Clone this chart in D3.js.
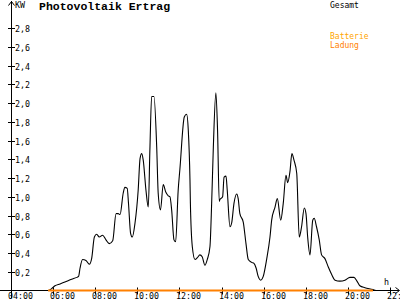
<!DOCTYPE html>
<html>
<head>
<meta charset="utf-8">
<script src="https://cdn.jsdelivr.net/npm/d3@7"></script>
<style>
  html, body { margin: 0; padding: 0; background: #fff; }
  svg { display: block; }
  .small { font-family: "DejaVu Sans Mono", monospace; font-size: 8.3px; }
  .legend { font-family: "DejaVu Sans Mono", monospace; font-size: 8px; }
</style>
</head>
<body>
<svg id="chart" width="400" height="300"></svg>
<script>
// ---- data ----
const title = "Photovoltaik Ertrag";
const unitLabel = "KW";
const timeUnit = "h";
const xTickHours = [4, 6, 8, 10, 12, 14, 16, 18, 20, 22];
const xTickLabels = ["04:00", "06:00", "08:00", "10:00", "12:00", "14:00", "16:00", "18:00", "20:00", "22:00"];
const yTickValues = [0.2, 0.4, 0.6, 0.8, 1.0, 1.2, 1.4, 1.6, 1.8, 2.0, 2.2, 2.4, 2.6, 2.8];
const yTickLabels = ["0,2", "0,4", "0,6", "0,8", "1,0", "1,2", "1,4", "1,6", "1,8", "2,0", "2,2", "2,4", "2,6", "2,8"];

const gesamtHours = [4.0, 5.76, 5.93, 6.09, 6.33, 6.56, 6.88, 7.12, 7.21, 7.28, 7.40, 7.56, 7.72, 7.83, 7.96, 8.07, 8.19, 8.35, 8.51, 8.67, 8.83, 8.99, 9.09, 9.18, 9.33, 9.41, 9.52, 9.58, 9.68, 9.76, 9.89, 10.04, 10.13, 10.21, 10.28, 10.41, 10.52, 10.60, 10.68, 10.79, 10.92, 10.99, 11.10, 11.23, 11.35, 11.47, 11.55, 11.63, 11.74, 11.82, 11.94, 12.02, 12.23, 12.34, 12.42, 12.50, 12.52, 12.61, 12.74, 12.85, 12.97, 13.08, 13.21, 13.32, 13.45, 13.53, 13.61, 13.73, 13.81, 13.89, 13.92, 14.05, 14.12, 14.21, 14.27, 14.40, 14.48, 14.59, 14.72, 14.79, 14.87, 15.03, 15.16, 15.27, 15.43, 15.54, 15.64, 15.74, 15.86, 15.98, 16.14, 16.30, 16.38, 16.54, 16.65, 16.81, 16.93, 17.06, 17.14, 17.25, 17.34, 17.44, 17.57, 17.69, 17.80, 17.93, 18.01, 18.09, 18.20, 18.33, 18.40, 18.51, 18.64, 18.75, 18.91, 19.07, 19.23, 19.39, 19.62, 19.86, 20.10, 20.29, 20.43, 20.57, 20.81, 21.19, 21.33, 22.0];
const gesamtKW = [0, 0, 0.02, 0.05, 0.07, 0.09, 0.12, 0.14, 0.15, 0.24, 0.33, 0.32, 0.28, 0.34, 0.57, 0.60, 0.57, 0.59, 0.54, 0.50, 0.53, 0.82, 0.82, 0.81, 1.04, 1.10, 1.09, 0.93, 0.61, 0.57, 0.72, 1.07, 1.41, 1.46, 1.39, 1.07, 0.89, 1.53, 2.07, 2.07, 1.53, 1.04, 0.86, 1.13, 1.05, 1.01, 1.00, 0.86, 0.54, 0.52, 1.07, 1.29, 1.85, 1.88, 1.71, 1.18, 0.93, 0.47, 0.33, 0.35, 0.38, 0.36, 0.27, 0.33, 0.47, 0.93, 1.53, 2.11, 1.71, 0.95, 0.97, 1.00, 1.21, 1.22, 1.07, 0.68, 0.72, 0.93, 1.03, 0.98, 0.82, 0.73, 0.50, 0.33, 0.30, 0.29, 0.24, 0.15, 0.11, 0.15, 0.33, 0.57, 0.75, 0.89, 0.98, 0.75, 0.93, 1.23, 1.15, 1.27, 1.46, 1.39, 1.25, 0.57, 0.68, 0.88, 0.82, 0.57, 0.38, 0.75, 0.77, 0.68, 0.54, 0.38, 0.34, 0.25, 0.17, 0.11, 0.10, 0.11, 0.14, 0.14, 0.10, 0.05, 0.03, 0.01, 0, 0];

const ladungHours = [5.76, 21.19];
const ladungKW = [0, 0];

const seriesNames = ["Gesamt", "Batterie", "Ladung"];
const seriesColors = ["#000000", "#ffa500", "#ff8000"];

// ---- drawing ----
const svg = d3.select("#chart");
const x = d3.scaleLinear().domain([4, 22]).range([11, 390]);
const y = d3.scaleLinear().domain([0, 3]).range([290.5, 9.25]);

const axisY = Math.round(y(0)) - 0.5; // 290

// Y axis line with arrow
svg.append("line").attr("x1", 11.5).attr("x2", 11.5).attr("y1", 1).attr("y2", 298)
  .attr("stroke", "#000").attr("stroke-width", 1);
svg.append("path").attr("d", "M8.5,5.5 L11.5,1.5 L14.5,5.5").attr("fill", "none")
  .attr("stroke", "#000").attr("stroke-width", 1);

// X axis line with arrow
svg.append("line").attr("x1", 0).attr("x2", 399).attr("y1", axisY).attr("y2", axisY)
  .attr("stroke", "#000").attr("stroke-width", 1);
svg.append("path").attr("d", `M395.5,${axisY - 3} L399.5,${axisY} L395.5,${axisY + 3}`).attr("fill", "none")
  .attr("stroke", "#000").attr("stroke-width", 1);

// X ticks & labels
const xt = svg.append("g");
xTickHours.forEach((h, i) => {
  const px = Math.round(x(h)) + 0.5;
  xt.append("line").attr("x1", px).attr("x2", px).attr("y1", axisY - 3).attr("y2", axisY + 4)
    .attr("stroke", "#000");
  xt.append("text").attr("class", "small").attr("x", px - 3.5).attr("y", 298.5)
    .attr("fill", "#000").text(xTickLabels[i]);
});

// Y ticks & labels
const yt = svg.append("g");
yTickValues.forEach((v, i) => {
  const py = Math.round(y(v)) + 0.5;
  yt.append("line").attr("x1", 8).attr("x2", 15).attr("y1", py).attr("y2", py).attr("stroke", "#000");
  yt.append("text").attr("class", "small").attr("x", 15).attr("y", py + 3)
    .attr("fill", "#000").text(yTickLabels[i]);
});

// Axis titles
svg.append("text").attr("class", "small").attr("x", 15).attr("y", 8).attr("fill", "#000").text(unitLabel);
svg.append("text").attr("class", "small").attr("x", 384).attr("y", 285).attr("fill", "#000").text(timeUnit);

// Title
svg.append("text").attr("x", 39).attr("y", 10)
  .style("font-family", "'Liberation Mono', monospace").style("font-weight", "bold").style("font-size", "11.5px")
  .attr("fill", "#000").text(title);

// Legend
svg.append("text").attr("class", "legend").attr("x", 330).attr("y", 7.5).attr("fill", seriesColors[0]).text(seriesNames[0]);
svg.append("text").attr("class", "legend").attr("x", 330).attr("y", 38.5).attr("fill", seriesColors[1]).text(seriesNames[1]);
svg.append("text").attr("class", "legend").attr("x", 330).attr("y", 48).attr("fill", seriesColors[2]).text(seriesNames[2]);

// Gesamt line
const line = d3.line().x(d => x(d[0])).y(d => y(d[1])).curve(d3.curveMonotoneX);
svg.append("path")
  .datum(gesamtHours.map((h, i) => [h, gesamtKW[i]]))
  .attr("d", line).attr("fill", "none").attr("stroke", seriesColors[0]).attr("stroke-width", 1.1);

// Batterie Ladung line
svg.append("path")
  .datum(ladungHours.map((h, i) => [h, ladungKW[i]]))
  .attr("d", d3.line().x(d => x(d[0])).y(d => y(d[1]))).attr("fill", "none").attr("stroke", seriesColors[2]).attr("stroke-width", 2);
</script>
</body>
</html>
